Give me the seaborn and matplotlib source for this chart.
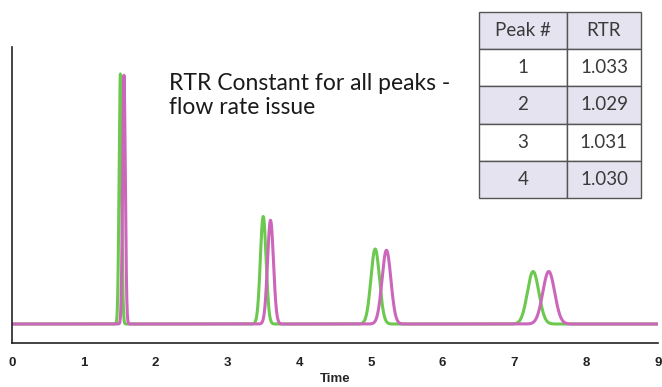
import numpy as np
import pandas as pd
import matplotlib
matplotlib.use("Agg")
import matplotlib.pyplot as plt
import seaborn as sns

# Peak data
green_centers = [1.51, 3.50, 5.06, 7.26]
green_heights = [1.00, 0.43, 0.30, 0.21]
green_widths = [0.018, 0.040, 0.060, 0.080]
rtr_values = [1.033, 1.029, 1.031, 1.030]
pink_heights = [0.995, 0.415, 0.295, 0.21]
peak_labels = ["1", "2", "3", "4"]
table_header = ["Peak #", "RTR"]
x_ticks = [0, 1, 2, 3, 4, 5, 6, 7, 8, 9]
annotation = "RTR Constant for all peaks -\nflow rate issue"

sns.set_style("white")
plt.rcParams['font.family'] = ['Lato', 'DejaVu Sans']

t = np.linspace(0, 9, 4000)
green = np.zeros_like(t)
pink = np.zeros_like(t)
for c, h, w, r, ph in zip(green_centers, green_heights, green_widths, rtr_values, pink_heights):
    green += h * np.exp(-0.5 * ((t - c) / w) ** 2)
    pink += ph * np.exp(-0.5 * ((t - c * r) / (w * r)) ** 2)

df = pd.DataFrame({
    "Time": np.concatenate([t, t]),
    "signal": np.concatenate([green, pink]),
    "run": ["green"] * len(t) + ["pink"] * len(t),
})

fig = plt.figure(figsize=(6.62, 3.87), dpi=100)
ax = fig.add_axes([12 / 662, 1 - 343 / 387, 646 / 662, 296 / 387])
sns.lineplot(data=df, x="Time", y="signal", hue="run",
             palette={"green": "#6cc84e", "pink": "#cc66bb"},
             linewidth=2.2, ax=ax, legend=False, estimator=None, sort=False)

ax.set_xlim(0, 9)
ax.set_ylim(-0.076, 1.108)
ax.set_yticks([])
ax.set_ylabel("")
ax.set_xticks(x_ticks)
ax.set_xticklabels([str(v) for v in x_ticks], fontsize=9.5, fontweight="bold",
                   family=["Liberation Sans", "DejaVu Sans"], color="#222222")
ax.tick_params(axis="x", direction="out", length=3, width=1, color="#333333", pad=7)
ax.set_xlabel("Time", fontsize=9.5, fontweight="bold",
              family=["Liberation Sans", "DejaVu Sans"], labelpad=3)
for s in ["top", "right"]:
    ax.spines[s].set_visible(False)
for s in ["left", "bottom"]:
    ax.spines[s].set_color("#222222")
    ax.spines[s].set_linewidth(1.2)

ax.text((169 - 12) / 646, (343 - 73) / 296, annotation, transform=ax.transAxes,
        fontsize=16.5, va="top", ha="left", color="#1a1a1a", linespacing=1.2)

cell_text = [[l, f"{v:.3f}"] for l, v in zip(peak_labels, rtr_values)]
tbl = ax.table(cellText=cell_text, colLabels=table_header,
               colWidths=[0.543, 0.457], cellLoc="center",
               bbox=[(479 - 12) / 646, (343 - 198) / 296, 162 / 646, 186 / 296])
tbl.auto_set_font_size(False)
tbl.set_fontsize(13.5)
for (r, c), cell in tbl.get_celld().items():
    cell.set_edgecolor("#555555")
    cell.set_linewidth(1.0)
    cell.set_facecolor("#e6e3f0" if r % 2 == 0 else "white")
    cell.get_text().set_color("#3a3a3a")
    cell.get_text().set_fontweight("normal")

fig.savefig("out.png", dpi=100)
